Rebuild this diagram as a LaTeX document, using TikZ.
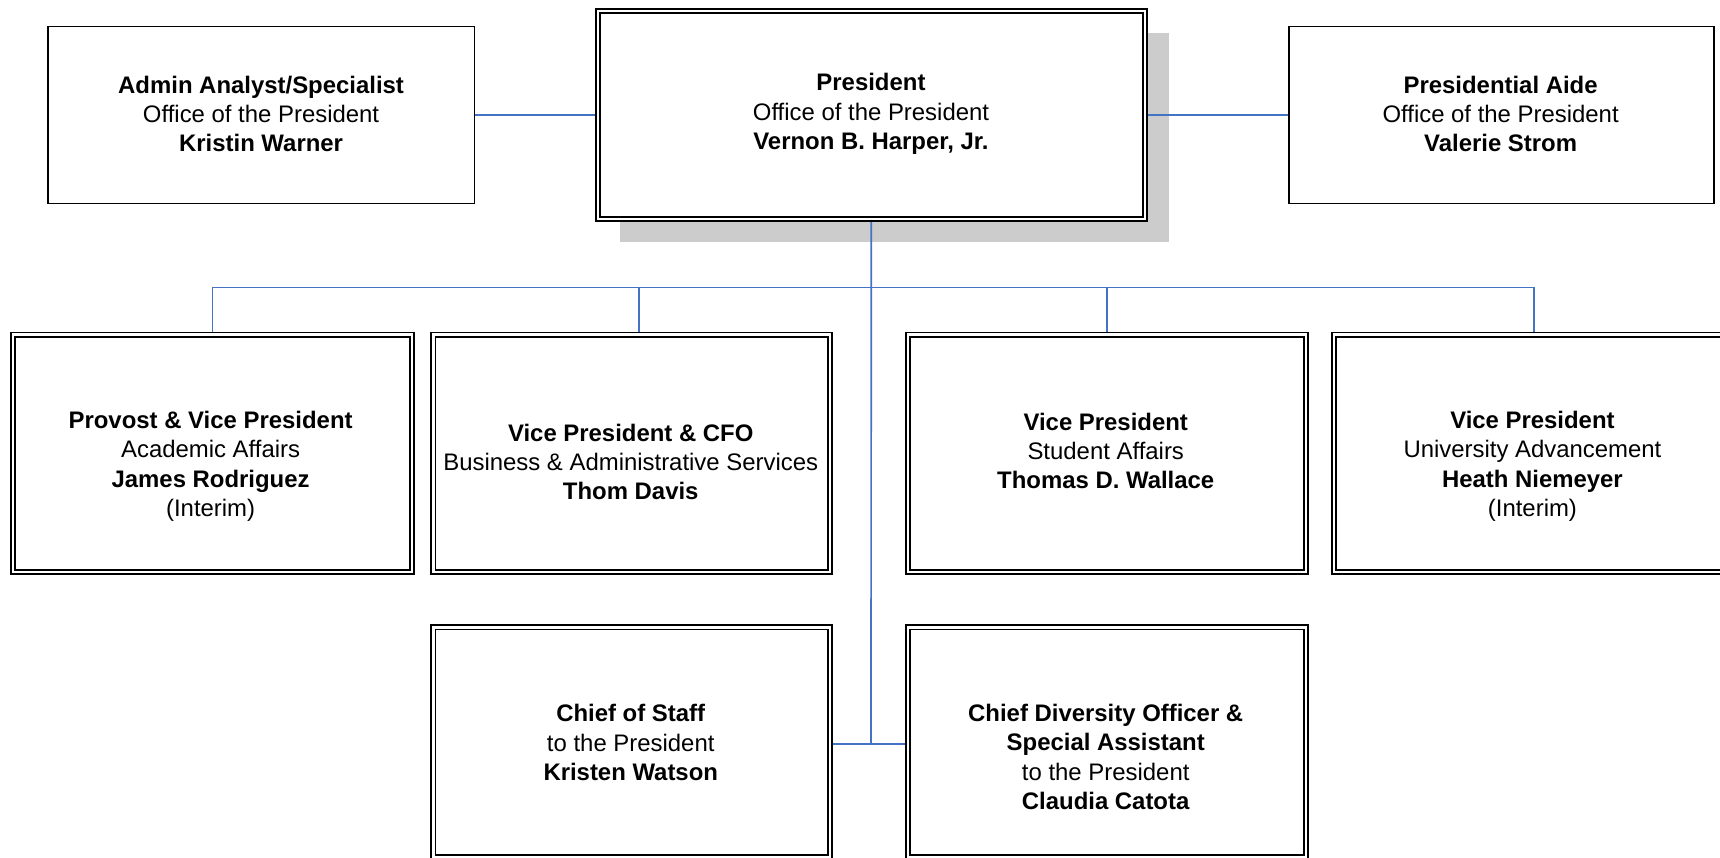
\documentclass[tikz,border=0pt]{standalone}
\usepackage{fontspec}
\setmainfont{Liberation Sans}
\begin{document}
\begin{tikzpicture}[x=1pt,y=-1pt]
\definecolor{connblue}{HTML}{4472C4}
\tikzset{
  conn/.style={draw=connblue, line width=1.5pt},
  single/.style={draw=black, fill=white, line width=1.5pt, inner sep=0pt, anchor=north west},
  dbl/.style={draw=black, fill=white, line width=1.6pt, double=white, double distance=2.2pt, inner sep=0pt, anchor=north west},
  txt/.style={align=center, inner sep=0pt, text=black, font=\fontsize{21.8}{26.7}\selectfont}}
\useasboundingbox (0,0) rectangle (1568,782);
% shadow
\fill[black!20] (565,30) rectangle (1066,221);
% box geometry (placed first so connectors can refer to them)
\path
  node[single, draw=none, fill=none, minimum width=387pt, minimum height=160pt] (admin) at (44,24) {}
  node[dbl, draw=none, fill=none, double=none, minimum width=497pt, minimum height=188pt] (pres) at (545,10) {}
  node[single, draw=none, fill=none, minimum width=386pt, minimum height=160pt] (aide) at (1175,24) {}
  node[dbl, draw=none, fill=none, minimum width=362pt, minimum height=215pt] (provost) at (12,305) {}
  node[dbl, draw=none, fill=none, minimum width=360pt, minimum height=215pt] (cfo) at (395,305) {}
  node[dbl, draw=none, fill=none, minimum width=361pt, minimum height=215pt] (student) at (828,305) {}
  node[dbl, draw=none, fill=none, minimum width=363pt, minimum height=215pt] (adv) at (1216,305) {}
  node[dbl, draw=none, fill=none, minimum width=360pt, minimum height=208pt] (cos) at (395,572) {}
  node[dbl, draw=none, fill=none, minimum width=361pt, minimum height=208pt] (cdo) at (828,572) {};
\coordinate (bus) at (794,262);
\coordinate (j) at (794,678);
% connectors
\draw[conn] (admin.east) -- (admin.east -| pres.west);
\draw[conn] (aide.west) -- (aide.west -| pres.east);
\draw[conn] (pres.south) -- (j);
\draw[conn] (provost.north) -- (provost.north |- bus) -- (adv.north |- bus) -- (adv.north);
\draw[conn] ([xshift=7pt]cfo.north) -- ([xshift=7pt]cfo.north |- bus);
\draw[conn] (student.north) -- (student.north |- bus);
\draw[conn] (cos.east |- j) -- (cdo.west |- j);
% visible boxes
\draw[single] (admin.north west) rectangle (admin.south east);
\draw[dbl] (pres.north west) rectangle (pres.south east);
\draw[single] (aide.north west) rectangle (aide.south east);
\foreach \b in {provost,cfo,student,adv,cos,cdo}
  \draw[dbl] (\b.north west) rectangle (\b.south east);
% texts
\node[txt] (admin-t) at (238,104) {\textbf{Admin Analyst/Specialist}\\Office of the President\\\textbf{Kristin Warner}};
\node[txt] (pres-t) at (794,104) {\textbf{President}\\Office of the President\\\textbf{Vernon B. Harper, Jr.}};
\node[txt] (aide-t) at (1368,104) {\textbf{Presidential Aide}\\Office of the President\\\textbf{Valerie Strom}};
\node[txt] (provost-t) at (192,425) {\textbf{Provost \& Vice President}\\Academic Affairs\\\textbf{James Rodriguez}\\(Interim)};
\node[txt] (cfo-t) at (575,421) {\textbf{Vice President \& CFO}\\Business \& Administrative Services\\\textbf{Thom Davis}};
\node[txt] (student-t) at (1008,411) {\textbf{Vice President}\\Student Affairs\\\textbf{Thomas D. Wallace}};
\node[txt] (adv-t) at (1397,425) {\textbf{Vice President}\\University Advancement\\\textbf{Heath Niemeyer}\\(Interim)};
\node[txt] (cos-t) at (575,677) {\textbf{Chief of Staff}\\to the President\\\textbf{Kristen Watson}};
\node[txt] (cdo-t) at (1008,690) {\textbf{Chief Diversity Officer \&}\\\textbf{Special Assistant}\\to the President\\\textbf{Claudia Catota}};
\end{tikzpicture}
\end{document}
